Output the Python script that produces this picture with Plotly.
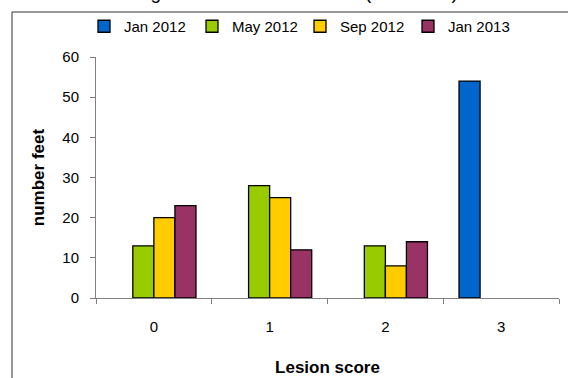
import plotly.graph_objects as go

# Lesion score categories and number of feet per sampling date
scores = ["0", "1", "2", "3"]
series_names = ["Jan 2012", "May 2012", "Sep 2012", "Jan 2013"]
jan_2012 = [0, 0, 0, 54]
may_2012 = [13, 28, 13, 0]
sep_2012 = [20, 25, 8, 0]
jan_2013 = [23, 12, 14, 0]
series_values = [jan_2012, may_2012, sep_2012, jan_2013]
colors = ["#0066CC", "#99CC00", "#FFCC00", "#993366"]

y_ticks = [0, 10, 20, 30, 40, 50, 60]

W, H = 568, 378
ML, MR, MT, MB = 96, 9, 57, 80
PW, PH = W - ML - MR, H - MT - MB


def px_x(p):
    return (p - ML) / PW


def px_y(p):
    return (H - MB - p) / PH


fig = go.Figure()
for name, vals, col in zip(series_names, series_values, colors):
    # empty counts are left out so nothing is drawn on the baseline
    fig.add_trace(go.Bar(
        x=scores, y=[v if v else None for v in vals], name=name,
        marker=dict(color=col, line=dict(color="#000000", width=1.3)),
    ))

font_family = "Liberation Sans, Arial, sans-serif"

fig.update_layout(
    width=W, height=H,
    margin=dict(l=ML, r=MR, t=MT, b=MB, pad=0, autoexpand=False),
    paper_bgcolor="white", plot_bgcolor="white",
    barmode="group", bargap=0.2727, bargroupgap=0,
    font=dict(family=font_family, size=15, color="#000000"),
    showlegend=True,
    legend=dict(
        orientation="h", x=px_x(84), y=px_y(10), xanchor="left", yanchor="top",
        font=dict(size=15), bgcolor="rgba(0,0,0,0)",
        entrywidth=63, itemclick=False,
    ),
    xaxis=dict(
        type="category", range=[-0.5, 3.5], tickson="boundaries",
        ticks="outside", ticklen=5, tickcolor="#808080", tickwidth=1,
        showline=True, linecolor="#808080", linewidth=1,
        showgrid=False, zeroline=False, automargin=False,
        tickfont=dict(size=15), ticklabelstandoff=15,
        title=dict(text="<b>Lesion score</b>", font=dict(size=17), standoff=27),
    ),
    yaxis=dict(
        range=[0, 60], tickvals=y_ticks, ticktext=[str(v) for v in y_ticks],
        ticks="outside", ticklen=5, tickcolor="#808080", tickwidth=1,
        showline=True, linecolor="#808080", linewidth=1,
        showgrid=False, zeroline=False, automargin=False,
        tickfont=dict(size=15), ticklabelstandoff=8,
        title=dict(text="<b>number feet</b>", font=dict(size=17), standoff=13),
    ),
    shapes=[
        dict(type="rect", xref="paper", yref="paper",
             x0=px_x(12), x1=px_x(W + 20), y0=px_y(H + 20), y1=px_y(12),
             line=dict(color="#333333", width=1), fillcolor="rgba(0,0,0,0)",
             layer="below"),
    ],
    annotations=[
        dict(text="Progression of lesion scores (2012 - 13)", xref="paper", yref="paper",
             x=px_x(119), y=px_y(5), xanchor="left", yanchor="bottom",
             showarrow=False, font=dict(size=19)),
    ],
)

fig.write_html("out.html")
